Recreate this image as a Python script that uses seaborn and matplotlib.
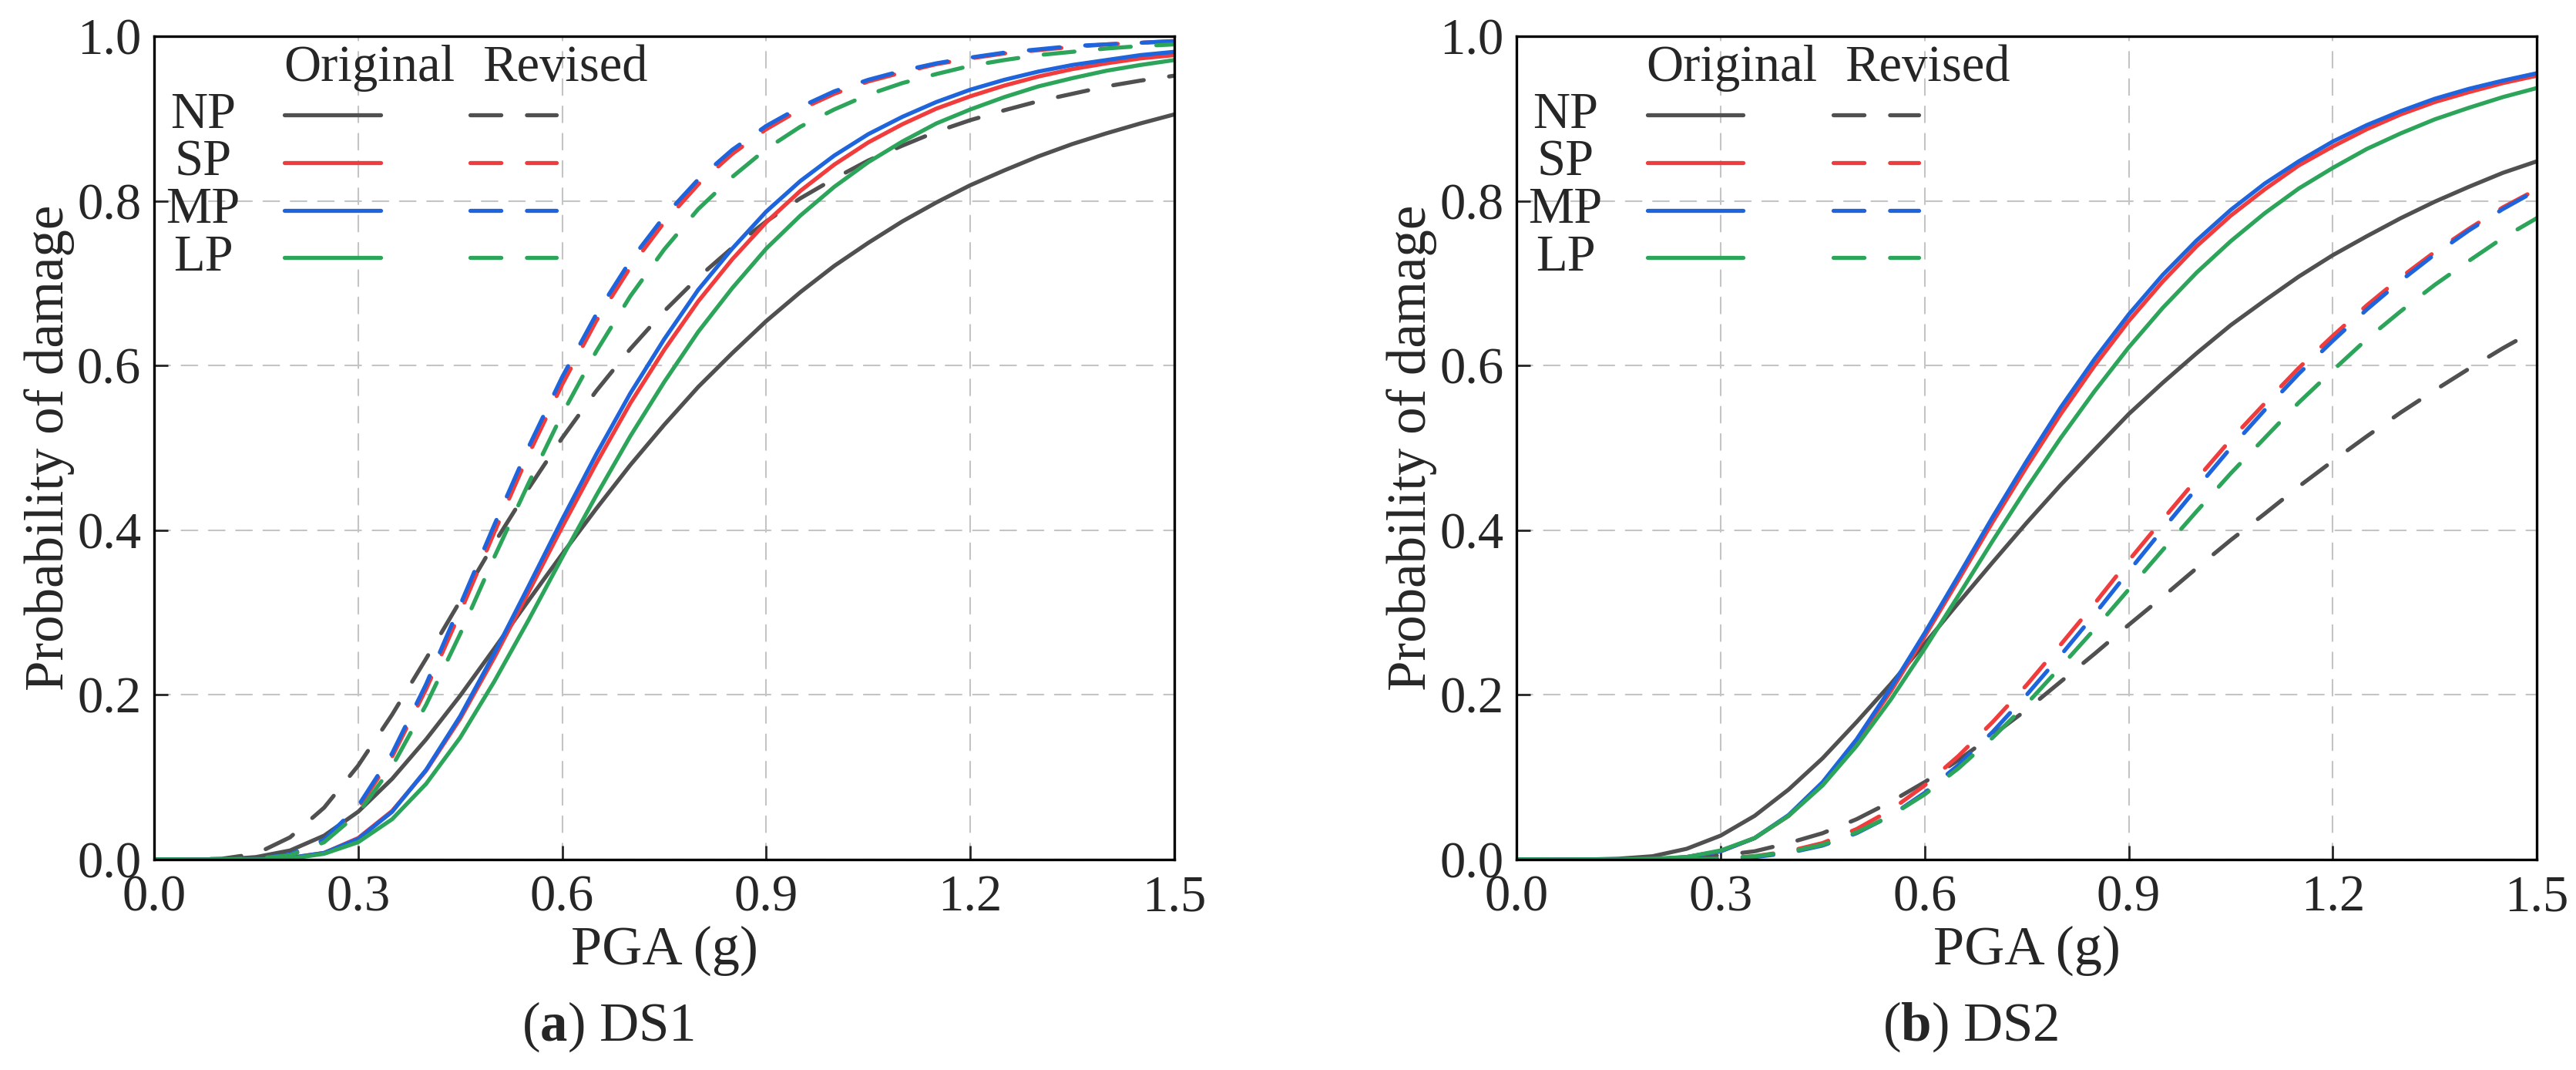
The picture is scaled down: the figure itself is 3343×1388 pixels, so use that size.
import numpy as np
import pandas as pd
import matplotlib
matplotlib.use("Agg")
import matplotlib.pyplot as plt
import seaborn as sns
from matplotlib.ticker import FormatStrFormatter

# PGA grid (g) and probability of damage
pga = [0.00, 0.05, 0.10, 0.15, 0.20, 0.25, 0.30, 0.35, 0.40, 0.45, 0.50,
       0.55, 0.60, 0.65, 0.70, 0.75, 0.80, 0.85, 0.90, 0.95, 1.00,
       1.05, 1.10, 1.15, 1.20, 1.25, 1.30, 1.35, 1.40, 1.45, 1.50]

# (a) DS1
ds1_np_original = [0, 0, 0.000, 0.003, 0.011, 0.029, 0.058, 0.098, 0.146, 0.199, 0.256,
                   0.314, 0.371, 0.426, 0.479, 0.528, 0.574, 0.615, 0.654, 0.689, 0.721,
                   0.749, 0.775, 0.798, 0.819, 0.837, 0.854, 0.869, 0.882, 0.894, 0.905]
ds1_sp_original = [0, 0, 0, 0.000, 0.002, 0.008, 0.026, 0.059, 0.108, 0.171, 0.245,
                   0.324, 0.404, 0.481, 0.554, 0.619, 0.678, 0.729, 0.774, 0.812, 0.844,
                   0.871, 0.893, 0.912, 0.927, 0.940, 0.951, 0.960, 0.967, 0.973, 0.977]
ds1_mp_original = [0, 0, 0, 0.000, 0.002, 0.008, 0.025, 0.058, 0.109, 0.174, 0.250,
                   0.331, 0.413, 0.492, 0.566, 0.632, 0.692, 0.742, 0.787, 0.824, 0.855,
                   0.881, 0.902, 0.920, 0.935, 0.947, 0.957, 0.965, 0.971, 0.977, 0.981]
ds1_lp_original = [0, 0, 0, 0.000, 0.001, 0.007, 0.021, 0.049, 0.092, 0.148, 0.216,
                   0.290, 0.367, 0.442, 0.514, 0.580, 0.641, 0.694, 0.742, 0.782, 0.817,
                   0.847, 0.872, 0.894, 0.911, 0.926, 0.939, 0.949, 0.958, 0.965, 0.971]
ds1_np_revised = [0, 0, 0.001, 0.007, 0.027, 0.063, 0.114, 0.176, 0.244, 0.314, 0.384,
                  0.450, 0.512, 0.569, 0.620, 0.666, 0.707, 0.743, 0.775, 0.803, 0.827,
                  0.849, 0.867, 0.884, 0.898, 0.910, 0.921, 0.930, 0.939, 0.946, 0.952]
ds1_sp_revised = [0, 0, 0, 0.001, 0.005, 0.023, 0.062, 0.125, 0.207, 0.300, 0.397,
                  0.491, 0.577, 0.654, 0.719, 0.774, 0.820, 0.857, 0.887, 0.911, 0.930,
                  0.945, 0.956, 0.966, 0.973, 0.979, 0.983, 0.987, 0.990, 0.992, 0.994]
ds1_mp_revised = [0, 0, 0, 0.001, 0.006, 0.024, 0.065, 0.129, 0.213, 0.309, 0.406,
                  0.500, 0.586, 0.662, 0.727, 0.781, 0.826, 0.862, 0.891, 0.914, 0.933,
                  0.947, 0.958, 0.967, 0.974, 0.980, 0.984, 0.988, 0.990, 0.992, 0.994]
ds1_lp_revised = [0, 0, 0, 0.001, 0.005, 0.021, 0.056, 0.113, 0.188, 0.274, 0.367,
                  0.456, 0.541, 0.617, 0.684, 0.741, 0.790, 0.829, 0.863, 0.890, 0.911,
                  0.929, 0.943, 0.954, 0.964, 0.971, 0.977, 0.981, 0.985, 0.988, 0.990]

# (b) DS2
ds2_np_original = [0, 0, 0.000, 0.001, 0.004, 0.013, 0.029, 0.053, 0.085, 0.123, 0.167,
                   0.213, 0.262, 0.312, 0.361, 0.409, 0.455, 0.498, 0.541, 0.579, 0.615,
                   0.649, 0.679, 0.708, 0.734, 0.757, 0.779, 0.799, 0.817, 0.834, 0.848]
ds2_sp_original = [0, 0, 0, 0, 0.000, 0.003, 0.010, 0.026, 0.053, 0.093, 0.144,
                   0.204, 0.271, 0.340, 0.410, 0.477, 0.541, 0.600, 0.654, 0.702, 0.745,
                   0.782, 0.814, 0.843, 0.866, 0.887, 0.905, 0.920, 0.932, 0.943, 0.952]
ds2_mp_original = [0, 0, 0, 0, 0.000, 0.003, 0.010, 0.026, 0.054, 0.094, 0.146,
                   0.208, 0.275, 0.345, 0.416, 0.484, 0.549, 0.608, 0.662, 0.710, 0.752,
                   0.789, 0.821, 0.848, 0.872, 0.892, 0.909, 0.924, 0.936, 0.946, 0.955]
ds2_lp_original = [0, 0, 0, 0, 0.001, 0.003, 0.011, 0.026, 0.053, 0.090, 0.138,
                   0.194, 0.256, 0.321, 0.387, 0.451, 0.512, 0.569, 0.622, 0.670, 0.713,
                   0.751, 0.785, 0.815, 0.840, 0.863, 0.882, 0.899, 0.913, 0.926, 0.937]
ds2_np_revised = [0, 0, 0, 0.000, 0.000, 0.002, 0.005, 0.010, 0.020, 0.032, 0.049,
                  0.070, 0.094, 0.121, 0.151, 0.182, 0.216, 0.250, 0.285, 0.319, 0.354,
                  0.388, 0.420, 0.453, 0.484, 0.514, 0.543, 0.570, 0.596, 0.621, 0.644]
ds2_sp_revised = [0, 0, 0, 0, 0, 0.000, 0.001, 0.004, 0.010, 0.020, 0.037,
                  0.060, 0.090, 0.126, 0.167, 0.212, 0.261, 0.311, 0.363, 0.413, 0.462,
                  0.510, 0.554, 0.597, 0.636, 0.673, 0.707, 0.738, 0.766, 0.792, 0.814]
ds2_mp_revised = [0, 0, 0, 0, 0, 0.000, 0.001, 0.003, 0.008, 0.017, 0.032,
                  0.053, 0.081, 0.115, 0.155, 0.200, 0.248, 0.298, 0.350, 0.401, 0.451,
                  0.500, 0.546, 0.590, 0.630, 0.668, 0.703, 0.735, 0.764, 0.790, 0.813]
ds2_lp_revised = [0, 0, 0, 0, 0, 0.000, 0.001, 0.004, 0.009, 0.018, 0.033,
                  0.053, 0.079, 0.111, 0.148, 0.189, 0.234, 0.280, 0.328, 0.376, 0.423,
                  0.469, 0.512, 0.555, 0.594, 0.632, 0.666, 0.698, 0.727, 0.755, 0.779]

protections = ["NP", "SP", "MP", "LP"]
versions = ["Original", "Revised"]
colors = {"NP": "#505050", "SP": "#f03c3c", "MP": "#1e64dc", "LP": "#2ca55a"}
dash_map = {"Original": "", "Revised": (7.6, 6.3)}


def to_long(curves):
    rows = []
    for (prot, ver), vals in curves.items():
        for x, p in zip(pga, vals):
            rows.append({"PGA": x, "P": p, "type": prot, "version": ver})
    return pd.DataFrame(rows)


ds1 = to_long({
    ("NP", "Original"): ds1_np_original, ("SP", "Original"): ds1_sp_original,
    ("MP", "Original"): ds1_mp_original, ("LP", "Original"): ds1_lp_original,
    ("NP", "Revised"): ds1_np_revised, ("SP", "Revised"): ds1_sp_revised,
    ("MP", "Revised"): ds1_mp_revised, ("LP", "Revised"): ds1_lp_revised,
})
ds2 = to_long({
    ("NP", "Original"): ds2_np_original, ("SP", "Original"): ds2_sp_original,
    ("MP", "Original"): ds2_mp_original, ("LP", "Original"): ds2_lp_original,
    ("NP", "Revised"): ds2_np_revised, ("SP", "Revised"): ds2_sp_revised,
    ("MP", "Revised"): ds2_mp_revised, ("LP", "Revised"): ds2_lp_revised,
})

sns.set_style("ticks")
plt.rcParams["font.family"] = ["Liberation Serif", "DejaVu Serif"]
plt.rcParams["mathtext.fontset"] = "custom"
plt.rcParams["mathtext.rm"] = "Liberation Serif"
plt.rcParams["mathtext.bf"] = "Liberation Serif:bold"
plt.rcParams["lines.dash_capstyle"] = "round"
plt.rcParams["lines.solid_capstyle"] = "round"

LW = 3.8
FS = 48

fig = plt.figure(figsize=(33.43, 13.88), dpi=100)
ax_a = fig.add_axes([0.0598, 0.1967, 0.3961, 0.7695])
ax_b = fig.add_axes([0.5887, 0.1967, 0.3961, 0.7695])

for ax, df, cap, cap_x in [(ax_a, ds1, r"($\mathbf{a}$) DS1", 0.236),
                           (ax_b, ds2, r"($\mathbf{b}$) DS2", 0.765)]:
    sns.lineplot(data=df, x="PGA", y="P", hue="type", style="version",
                 hue_order=protections, style_order=versions,
                 palette=colors, dashes=dash_map, estimator=None, sort=True,
                 linewidth=LW, legend=False, ax=ax)
    ax.set_xlim(0, 1.5)
    ax.set_ylim(0, 1.0)
    ax.set_xticks(np.arange(0, 1.51, 0.3))
    ax.set_yticks(np.arange(0, 1.01, 0.2))
    ax.xaxis.set_major_formatter(FormatStrFormatter("%.1f"))
    ax.yaxis.set_major_formatter(FormatStrFormatter("%.1f"))
    ax.grid(True, color="#c4c4c4", linestyle=(0, (10, 7)), linewidth=1.5)
    ax.set_axisbelow(True)
    ax.tick_params(direction="in", length=13, width=2, labelsize=FS,
                   top=False, right=False)
    ax.tick_params(axis="x", pad=14)
    ax.tick_params(axis="y", pad=12)
    for sp in ax.spines.values():
        sp.set_linewidth(2.4)
        sp.set_color("black")
        sp.set_visible(True)
    ax.set_xlabel("PGA (g)", fontsize=52, labelpad=4)
    ax.set_ylabel("Probability of damage", fontsize=51, labelpad=2)

    # legend table: header row, then label / solid / dashed per protection type
    ax.text(0.211, 0.961, "Original", transform=ax.transAxes, fontsize=FS,
            ha="center", va="center")
    ax.text(0.403, 0.961, "Revised", transform=ax.transAxes, fontsize=FS,
            ha="center", va="center")
    for i, prot in enumerate(protections):
        yy = 0.904 - i * 0.0577
        ax.text(0.048, yy, prot, transform=ax.transAxes, fontsize=FS,
                ha="center", va="center")
        ax.plot([0.128, 0.222], [yy, yy], transform=ax.transAxes,
                color=colors[prot], lw=LW)
        ax.plot([0.310, 0.394], [yy, yy], transform=ax.transAxes,
                color=colors[prot], lw=LW, dashes=dash_map["Revised"])

    fig.text(cap_x, 0.040, cap, fontsize=51, ha="center", va="center")

fig.savefig("out.png", dpi=100)
